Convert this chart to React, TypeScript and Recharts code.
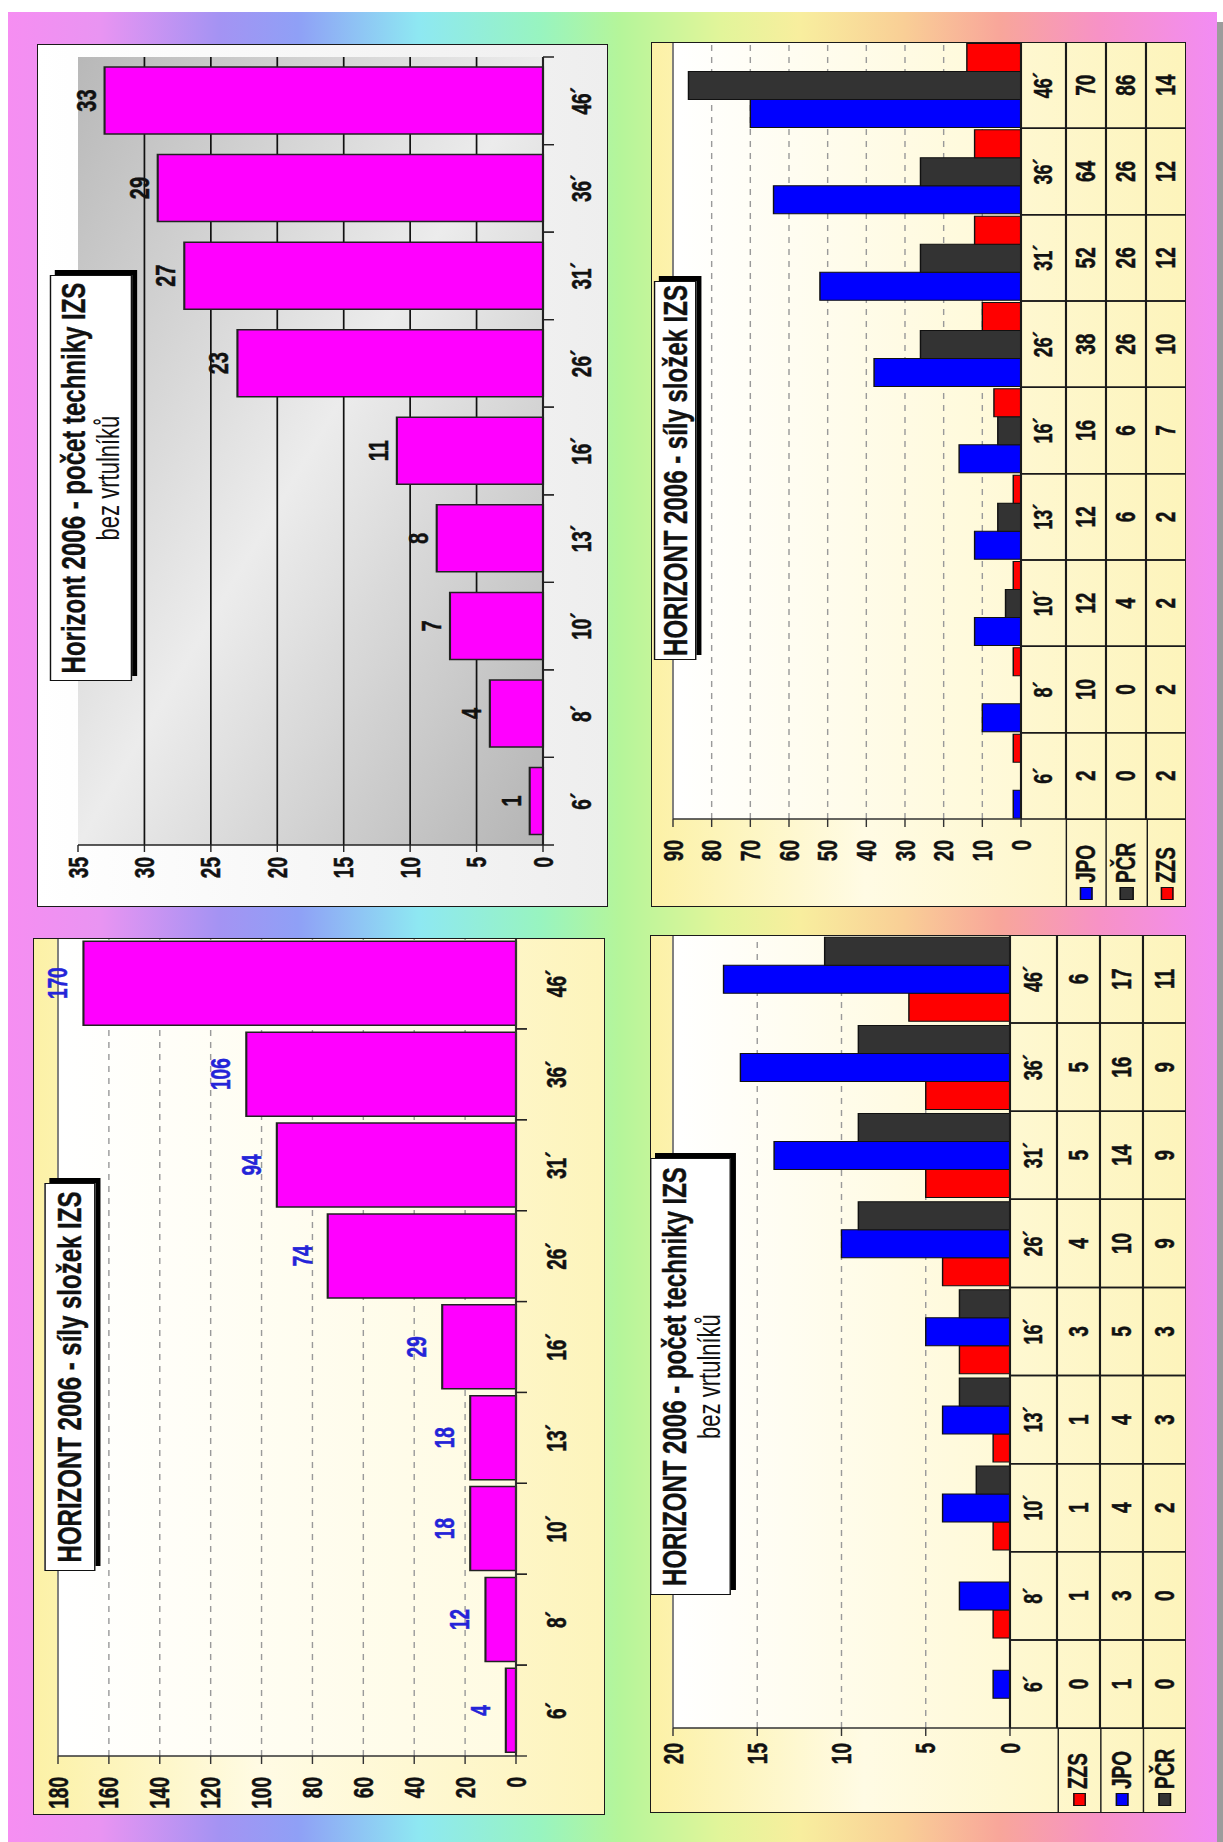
import React from 'react';
import { BarChart, Bar, XAxis, YAxis, CartesianGrid, LabelList, ReferenceLine } from 'recharts';

// kategorie (minuty)
const categories = ['6´', '8´', '10´', '13´', '16´', '26´', '31´', '36´', '46´'];

// počet techniky IZS bez vrtulníků - celkem
const techTotal = [1, 4, 7, 8, 11, 23, 27, 29, 33];
// síly složek IZS - celkem
const forceTotal = [4, 12, 18, 18, 29, 74, 94, 106, 170];

// síly složek IZS po složkách
const forceJPO = [2, 10, 12, 12, 16, 38, 52, 64, 70];
const forcePCR = [0, 0, 4, 6, 6, 26, 26, 26, 86];
const forceZZS = [2, 2, 2, 2, 7, 10, 12, 12, 14];

// počet techniky po složkách
const techZZS = [0, 1, 1, 1, 3, 4, 5, 5, 6];
const techJPO = [1, 3, 4, 4, 5, 10, 14, 16, 17];
const techPCR = [0, 0, 2, 3, 3, 9, 9, 9, 11];

const techTicks = [0, 5, 10, 15, 20, 25, 30, 35];
const forceTicks = [0, 20, 40, 60, 80, 100, 120, 140, 160, 180];
const forceGroupTicks = [0, 10, 20, 30, 40, 50, 60, 70, 80, 90];
const techGroupTicks = [0, 5, 10, 15, 20];

const seriesNames: Record<string, string> = { JPO: 'JPO', PCR: 'PČR', ZZS: 'ZZS' };
const seriesColors: Record<string, string> = { JPO: '#0000ff', PCR: '#333333', ZZS: '#ff0000' };

const FONT = '"Liberation Sans", Arial, Helvetica, sans-serif';
const S = 1.42; // puvodni obrazek je roztazeny napric textem

const techData = categories.map((cat, i) => ({ cat, value: techTotal[i] }));
const forceData = categories.map((cat, i) => ({ cat, value: forceTotal[i] }));
const forceGroupData = categories.map((cat, i) => ({ cat, JPO: forceJPO[i], PCR: forcePCR[i], ZZS: forceZZS[i] }));
const techGroupData = categories.map((cat, i) => ({ cat, ZZS: techZZS[i], JPO: techJPO[i], PCR: techPCR[i] }));

const thick = { stroke: '#111', strokeWidth: 0.35 };

function Panel({ left, top, w, h, bg, children }: { left: number; top: number; w: number; h: number; bg: string; children: React.ReactNode }) {
  return (
    <div style={{ position: 'absolute', left, top, width: w, height: h, overflow: 'hidden' }}>
      <div
        style={{
          position: 'absolute', left: 0, top: 0, width: h, height: w / S, background: bg, fontFamily: FONT,
          transformOrigin: '0 0', transform: `translate(0px, ${h}px) rotate(-90deg) scale(1, ${S})`,
        }}
      >
        {children}
      </div>
      <div style={{ position: 'absolute', left: 0, top: 0, right: 0, bottom: 0, border: '1.5px solid #1a1a1a', pointerEvents: 'none' }} />
    </div>
  );
}

// rozmery v souradnicich grafu pred roztazenim (svisle deleno S)
function TitleBox({ left, top, width, height, title, subtitle }: { left: number; top: number; width: number; height: number; title: string; subtitle?: string }) {
  return (
    <div
      style={{
        position: 'absolute', left, top: top / S, width, height: height / S, background: '#fff', border: '1px solid #111',
        boxShadow: `5px ${5 / S}px 0 #000`, boxSizing: 'border-box', display: 'flex', flexDirection: 'column',
        justifyContent: 'center', alignItems: 'center', lineHeight: 1.08, color: '#111',
      }}
    >
      <div style={{ fontWeight: 'bold', fontSize: 24, whiteSpace: 'nowrap', WebkitTextStroke: '0.3px #111' }}>{title}</div>
      {subtitle && <div style={{ fontSize: 22, whiteSpace: 'nowrap' }}>{subtitle}</div>}
    </div>
  );
}

function KeyColumn({ top, width, rowH, keys }: { top: number; width: number; rowH: number; keys: string[] }) {
  return (
    <div style={{ position: 'absolute', left: 0, top, width, height: rowH * keys.length, borderRight: '1.5px solid #1a1a1a', boxSizing: 'border-box' }}>
      {keys.map((k) => (
        <div key={k} style={{ height: rowH, borderTop: '1.5px solid #1a1a1a', boxSizing: 'border-box', display: 'flex', alignItems: 'center', paddingLeft: 7 }}>
          <span style={{ display: 'inline-block', width: 13, height: 13 / S, background: seriesColors[k], border: '1px solid #111', boxSizing: 'border-box', marginRight: 4 }} />
          <span style={{ fontWeight: 'bold', fontSize: 19, color: '#111', WebkitTextStroke: '0.3px #111' }}>{seriesNames[k]}</span>
        </div>
      ))}
    </div>
  );
}

// popisek kategorie + carky na hranicich kategorii
function CatTick(props: any) {
  const { x, y, payload, band, labelDy, tickLen } = props;
  const half = band / 2;
  return (
    <g>
      <line x1={x - half} x2={x - half} y1={y} y2={y + tickLen} stroke="#222" strokeWidth={1.3} />
      <line x1={x + half} x2={x + half} y1={y} y2={y + tickLen} stroke="#222" strokeWidth={1.3} />
      <text x={x} y={y + labelDy} textAnchor="middle" dominantBaseline="central" fontSize={19} fontWeight="bold" fill="#111" {...thick}>
        {payload.value}
      </text>
    </g>
  );
}

// tabulka dat pod osou
function TableTick(props: any) {
  const { x, y, payload, band, catH, rowH, rows } = props;
  const half = band / 2;
  const idx = categories.indexOf(payload.value);
  const total = catH + rowH * rows.length;
  const ln = { stroke: '#1a1a1a', strokeWidth: 1.5 };
  return (
    <g>
      <line x1={x - half} x2={x - half} y1={y} y2={y + total} {...ln} />
      <line x1={x + half} x2={x + half} y1={y} y2={y + total} {...ln} />
      {rows.map((_: number[], k: number) => (
        <line key={'l' + k} x1={x - half} x2={x + half} y1={y + catH + k * rowH} y2={y + catH + k * rowH} {...ln} />
      ))}
      <text x={x} y={y + catH / 2} textAnchor="middle" dominantBaseline="central" fontSize={18} fontWeight="bold" fill="#111" {...thick}>
        {payload.value}
      </text>
      {rows.map((vals: number[], k: number) => (
        <text key={'t' + k} x={x} y={y + catH + (k + 0.5) * rowH} textAnchor="middle" dominantBaseline="central" fontSize={19} fontWeight="bold" fill="#111" {...thick}>
          {vals[idx]}
        </text>
      ))}
    </g>
  );
}

const axisTick = { fill: '#111', fontSize: 19, fontWeight: 'bold' as const, ...thick };

function TechTotalChart() {
  const w = 863, h = 571 / S;
  const yW = 62, right = 13;
  const band = (w - yW - right) / categories.length;
  return (
    <>
      <BarChart width={w} height={h} data={techData} margin={{ top: 41 / S, right, bottom: 0, left: 0 }} barCategoryGap="12%">
        <defs>
          <linearGradient id="p1plot" x1="0" y1="1" x2="1" y2="0">
            <stop offset="0%" stopColor="#b4b4b4" />
            <stop offset="50%" stopColor="#ececec" />
            <stop offset="100%" stopColor="#b8b8b8" />
          </linearGradient>
        </defs>
        <CartesianGrid vertical={false} stroke="#111" strokeWidth={1.2} fill="url(#p1plot)" horizontalValues={[5, 10, 15, 20, 25, 30]} />
        <XAxis dataKey="cat" interval={0} height={65 / S} tickSize={0} tickMargin={0} tickLine={false} axisLine={{ stroke: '#222', strokeWidth: 1.5 }}
          tick={(p: any) => <CatTick {...p} band={band} labelDy={39 / S} tickLen={11 / S} />} />
        <YAxis domain={[0, 35]} ticks={techTicks} interval={0} width={yW} tickSize={7} tickMargin={5}
          axisLine={{ stroke: '#222', strokeWidth: 1.5 }} tickLine={{ stroke: '#222' }} tick={axisTick} />
        <Bar dataKey="value" fill="#ff00ff" stroke="#222" strokeWidth={1.5} isAnimationActive={false}>
          <LabelList dataKey="value" position="top" offset={9 / S} fill="#111" fontSize={20} fontWeight="bold" {...thick} />
        </Bar>
      </BarChart>
      <TitleBox left={226} top={13} width={406} height={82} title="Horizont 2006 - počet techniky IZS" subtitle="bez vrtulníků" />
    </>
  );
}

function ForceTotalChart() {
  const w = 877, h = 572 / S;
  const yW = 59;
  const band = (w - yW) / categories.length;
  return (
    <>
      <BarChart width={w} height={h} data={forceData} margin={{ top: 25 / S, right: 0, bottom: 0, left: 0 }} barCategoryGap="4%">
        <defs>
          <linearGradient id="p3plot" x1="0" y1="0" x2="0" y2="1">
            <stop offset="0%" stopColor="#ffffff" />
            <stop offset="100%" stopColor="#fffbe2" />
          </linearGradient>
        </defs>
        <CartesianGrid vertical={false} stroke="#9a9a9a" strokeDasharray="6 6" fill="url(#p3plot)" horizontalValues={[20, 40, 60, 80, 100, 120, 140, 160]} />
        <ReferenceLine y={180} stroke="#777" strokeWidth={1.3} />
        <XAxis dataKey="cat" interval={0} height={89 / S} tickSize={0} tickMargin={0} tickLine={false} axisLine={{ stroke: '#333', strokeWidth: 1.5 }}
          tick={(p: any) => <CatTick {...p} band={band} labelDy={41 / S} tickLen={11 / S} />} />
        <YAxis domain={[0, 180]} ticks={forceTicks} interval={0} width={yW} tickSize={8} tickMargin={13}
          axisLine={{ stroke: '#333', strokeWidth: 1.5 }} tickLine={{ stroke: '#333' }} tick={axisTick} />
        <Bar dataKey="value" fill="#ff00ff" stroke="#222" strokeWidth={1.5} isAnimationActive={false}>
          <LabelList dataKey="value" position="top" offset={16 / S} fill="#2424d8" fontSize={19} fontWeight="bold" stroke="#2424d8" strokeWidth={0.35} />
        </Bar>
      </BarChart>
      <TitleBox left={244} top={12} width={388} height={50} title="HORIZONT 2006 - síly složek IZS" />
    </>
  );
}

function ForceGroupChart() {
  const w = 865, h = 535 / S;
  const yW = 88, catH = 45 / S, rowH = 40 / S;
  const tableH = catH + rowH * 3;
  const band = (w - yW) / categories.length;
  const keys = ['JPO', 'PCR', 'ZZS'];
  const plotBottom = h - tableH;
  return (
    <>
      <BarChart width={w} height={h} data={forceGroupData} margin={{ top: 22 / S, right: 0, bottom: 0, left: 0 }} barCategoryGap="1%" barGap={0}>
        <defs>
          <linearGradient id="p2plot" x1="0" y1="0" x2="0" y2="1">
            <stop offset="0%" stopColor="#ffffff" />
            <stop offset="100%" stopColor="#fff9d6" />
          </linearGradient>
        </defs>
        <CartesianGrid vertical={false} stroke="#9a9a9a" strokeDasharray="6 6" fill="url(#p2plot)" horizontalValues={[10, 20, 30, 40, 50, 60, 70, 80]} />
        <ReferenceLine y={90} stroke="#777" strokeWidth={1.3} />
        <XAxis dataKey="cat" interval={0} height={tableH} tickSize={0} tickMargin={0} tickLine={false} axisLine={{ stroke: '#1a1a1a', strokeWidth: 1.5 }}
          tick={(p: any) => <TableTick {...p} band={band} catH={catH} rowH={rowH} rows={[forceJPO, forcePCR, forceZZS]} />} />
        <YAxis domain={[0, 90]} ticks={forceGroupTicks} interval={0} width={yW} tickSize={8} tickMargin={13}
          axisLine={{ stroke: '#333', strokeWidth: 1.5 }} tickLine={{ stroke: '#333' }} tick={axisTick} />
        {keys.map((k) => (
          <Bar key={k} dataKey={k} name={seriesNames[k]} fill={seriesColors[k]} stroke="#111" strokeWidth={1} isAnimationActive={false} />
        ))}
      </BarChart>
      <KeyColumn top={plotBottom + catH} width={yW} rowH={rowH} keys={keys} />
      <TitleBox left={247} top={3} width={379} height={43} title="HORIZONT 2006 - síly složek IZS" />
    </>
  );
}

function TechGroupChart() {
  const w = 878, h = 536 / S;
  const yW = 85, catH = 47 / S, rowH = 43 / S;
  const tableH = catH + rowH * 3;
  const band = (w - yW) / categories.length;
  const keys = ['ZZS', 'JPO', 'PCR'];
  const plotBottom = h - tableH;
  return (
    <>
      <BarChart width={w} height={h} data={techGroupData} margin={{ top: 23 / S, right: 0, bottom: 0, left: 0 }} barCategoryGap="2%" barGap={0}>
        <defs>
          <linearGradient id="p4plot" x1="0" y1="0" x2="0" y2="1">
            <stop offset="0%" stopColor="#ffffff" />
            <stop offset="100%" stopColor="#fff9d6" />
          </linearGradient>
        </defs>
        <CartesianGrid vertical={false} stroke="#9a9a9a" strokeDasharray="6 6" fill="url(#p4plot)" horizontalValues={[5, 10, 15]} />
        <ReferenceLine y={20} stroke="#777" strokeWidth={1.3} />
        <XAxis dataKey="cat" interval={0} height={tableH} tickSize={0} tickMargin={0} tickLine={false} axisLine={{ stroke: '#1a1a1a', strokeWidth: 1.5 }}
          tick={(p: any) => <TableTick {...p} band={band} catH={catH} rowH={rowH} rows={[techZZS, techJPO, techPCR]} />} />
        <YAxis domain={[0, 20]} ticks={techGroupTicks} interval={0} width={yW} tickSize={8} tickMargin={7}
          axisLine={{ stroke: '#333', strokeWidth: 1.5 }} tickLine={{ stroke: '#333' }} tick={axisTick} />
        {keys.map((k) => (
          <Bar key={k} dataKey={k} name={seriesNames[k]} fill={seriesColors[k]} stroke="#111" strokeWidth={1} isAnimationActive={false} />
        ))}
      </BarChart>
      <KeyColumn top={plotBottom + catH} width={yW} rowH={rowH} keys={keys} />
      <TitleBox left={218} top={0} width={437} height={81} title="HORIZONT 2006 - počet techniky IZS" subtitle="bez vrtulníků" />
    </>
  );
}

const pageGradient =
  'linear-gradient(to right, #f68ef2 0%, #e994f2 7.6%, #a493f3 17.5%, #8fa0f6 24%, #8ee8f2 34%, #98f4c0 44%, #b5f59a 50.6%, #e2f59a 59%, #f8ee9e 65.5%, #f9cf96 74%, #f8a69a 82%, #f792c6 90.3%, #f28cf4 100%)';
const yellowBg = 'linear-gradient(to bottom, #fcf1a6 0%, #fffbe4 40%, #fdf4bb 100%)';

export default function App() {
  return (
    <div style={{ position: 'absolute', left: 0, top: 0, width: 1223, height: 1842, background: '#fff', overflow: 'hidden' }}>
      <div style={{ position: 'absolute', left: 8, top: 12, width: 1209, height: 1830, background: pageGradient }} />
      <div style={{ position: 'absolute', left: 1217, top: 22, width: 6, height: 1820, background: '#9c9c9c' }} />

      <Panel left={37} top={44} w={571} h={863} bg="linear-gradient(to bottom, #ffffff, #eeeeee)">
        <TechTotalChart />
      </Panel>
      <Panel left={651} top={42} w={535} h={865} bg={yellowBg}>
        <ForceGroupChart />
      </Panel>
      <Panel left={33} top={938} w={572} h={877} bg={yellowBg}>
        <ForceTotalChart />
      </Panel>
      <Panel left={650} top={935} w={536} h={878} bg={yellowBg}>
        <TechGroupChart />
      </Panel>
    </div>
  );
}
